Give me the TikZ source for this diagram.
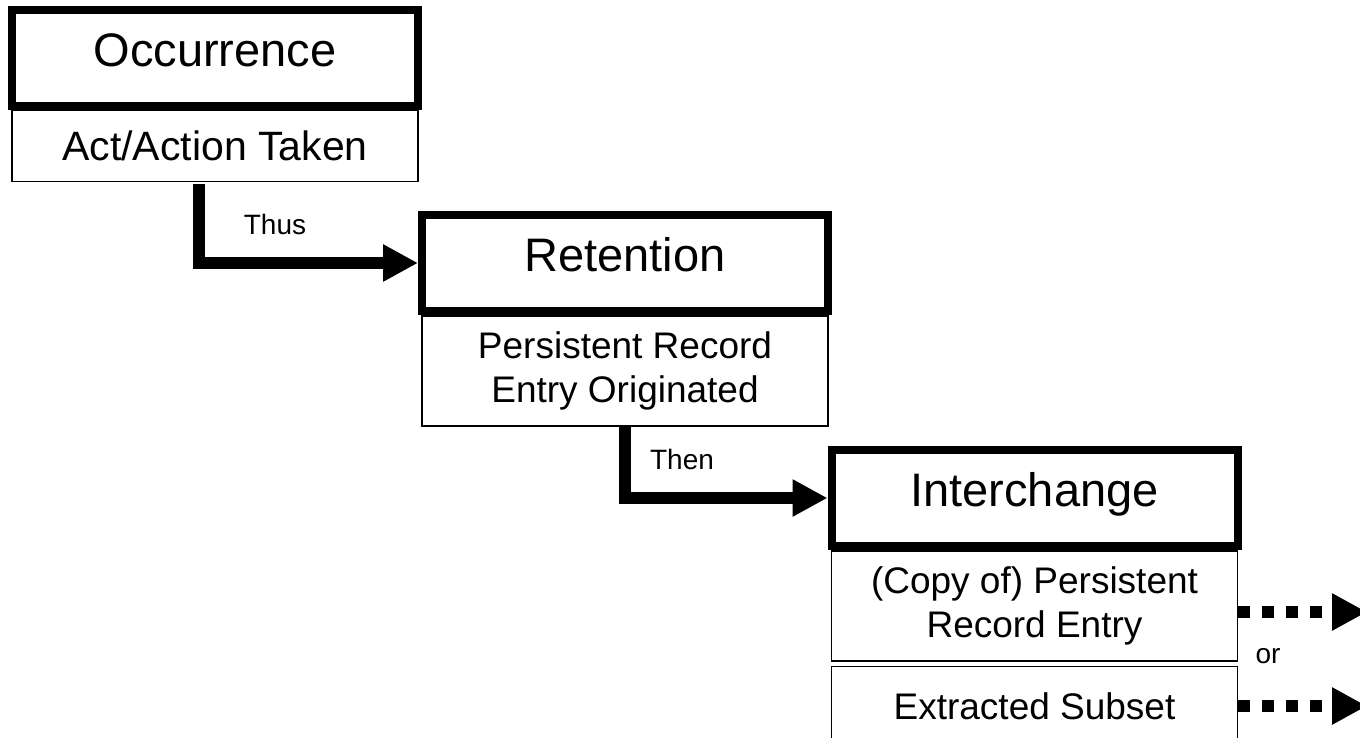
\documentclass[tikz,border=0pt]{standalone}
\usepackage{fontspec}
\setmainfont{Liberation Sans}
\usetikzlibrary{arrows.meta,positioning}
\tikzset{
stagebox/.style={draw,line width=8pt,minimum width=406pt,minimum height=96pt,text height=34pt,text depth=17pt,font=\fontsize{47}{52}\selectfont},
detailbox/.style={draw,line width=1.5pt,minimum width=406pt,align=center,font=\fontsize{37}{44}\selectfont},
flow/.style={line width=12pt,-{Triangle[length=35pt,width=35pt]}},
maybeflow/.style={flow,dash pattern=on 12pt off 12pt},
flowlabel/.style={font=\fontsize{28}{32}\selectfont}
}
\begin{document}
\begin{tikzpicture}[x=1pt,y=-1pt]
\clip(0,0)rectangle(1360,738);
\foreach \kname/\kx/\ky/\ktext in {occ/215/58/Occurrence,ret/625/263/Retention,int/1034.5/498/Interchange}{\node[stagebox](\kname)at(\kx,\ky){\ktext};}
\node[detailbox,minimum height=71pt,below=0pt of occ,font=\fontsize{41}{48}\selectfont](act){Act/Action Taken};
\node[detailbox,minimum height=110pt,below=0pt of ret](pre){Persistent Record\\Entry Originated};
\node[detailbox,minimum height=110pt,below=0pt of int](copy){(Copy of) Persistent\\Record Entry};
\node[detailbox,minimum height=80pt,below=4pt of copy](sub){Extracted Subset};
\draw[flow]([xshift=-16pt,yshift=-2pt]act.south)|-(ret.west);
\draw[flow](pre.south)|-(int.west);
\node[flowlabel](thus)at(275,224){Thus};
\node[flowlabel](then)at(682,459){Then};
\coordinate(copyout)at(1367,612);
\coordinate(subout)at(1367,706);
\draw[maybeflow](copy.east|-copyout)--(copyout);
\draw[maybeflow](sub.east|-subout)--(subout);
\node[flowlabel](or)at(1268,656){or};
\end{tikzpicture}
\end{document}
